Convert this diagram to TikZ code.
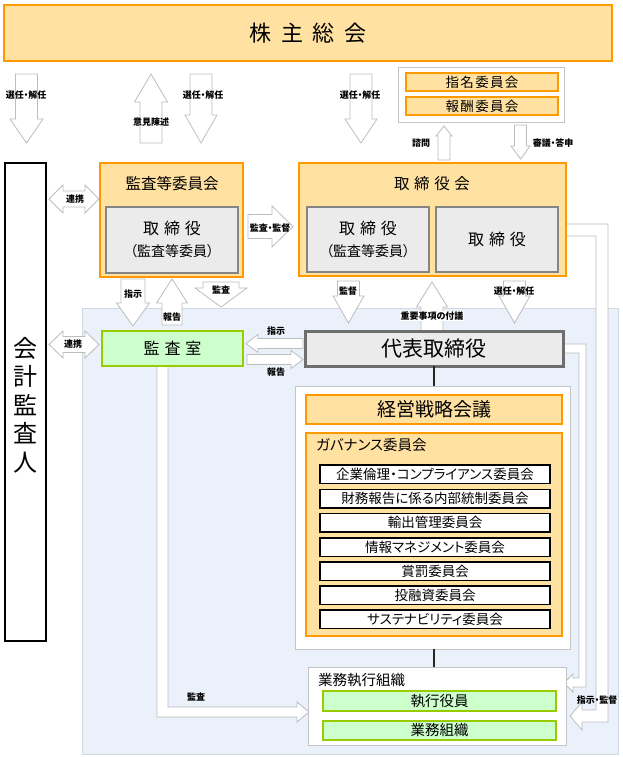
\documentclass[tikz,border=0pt]{standalone}
\usepackage{fontspec}
\setmainfont{Noto Sans CJK JP}[RawFeature=+palt]
\definecolor{orng}{HTML}{FF9900}
\definecolor{orfill}{HTML}{FFE1A2}
\definecolor{gbord}{HTML}{858585}
\definecolor{dbord}{HTML}{6E6E6E}
\definecolor{gfill}{HTML}{EBEBEB}
\definecolor{grnb}{HTML}{99CC00}
\definecolor{grnf}{HTML}{CCFFCC}
\definecolor{bluebg}{HTML}{EAF1FA}
\definecolor{bluebd}{HTML}{CFD8E3}
\definecolor{arrowc}{HTML}{BDBDBD}
\definecolor{lgray}{HTML}{C4C4C4}
\newcommand\gp{\hspace{0.3em}}
% box: name, style, x1, y1, x2, y2, text
\newcommand\bx[7]{\node[#2, anchor=north west, inner sep=0pt, outer sep=0pt,
  minimum width=#5pt-#3pt, minimum height=#6pt-#4pt] (#1) at (#3,#4) {#7};}
% single block arrow: tail x, tail y, angle, length, head length, shaft half, head half
\newcommand\sarrow[7]{\draw[barrow,shift={(#1,#2)},rotate=#3] (0,-#6) -- ({#4-#5},-#6) -- ({#4-#5},-#7) -- (#4,0) -- ({#4-#5},#7) -- ({#4-#5},#6) -- (0,#6) -- cycle;}
% double block arrow
\newcommand\darrow[7]{\draw[barrow,shift={(#1,#2)},rotate=#3] (0,0) -- (#5,-#7) -- (#5,-#6) -- ({#4-#5},-#6) -- ({#4-#5},-#7) -- (#4,0) -- ({#4-#5},#7) -- ({#4-#5},#6) -- (#5,#6) -- (#5,#7) -- cycle;}
\begin{document}
\begin{tikzpicture}[x=1pt,y=-1pt,
  orangebox/.style={draw=orng, line width=2.6pt, fill=orfill},
  orangethin/.style={draw=orng, line width=2pt, fill=orfill},
  graybox/.style={draw=gbord, line width=2.6pt, fill=gfill},
  greenbox/.style={draw=grnb, line width=2.6pt, fill=grnf},
  greenthin/.style={draw=grnb, line width=2.2pt, fill=grnf},
  whitebox/.style={draw=lgray, line width=0.8pt, fill=white},
  itembox/.style={draw=black, line width=1.6pt, fill=white},
  barrow/.style={draw=arrowc, line width=0.8pt, fill=white, line join=miter},
  lbl/.style={font=\bfseries\fontsize{9}{10}\selectfont, inner sep=0.5pt},
  connline/.style={draw=black!85, line width=1.5pt}]
\useasboundingbox (0,0) rectangle (623,758);
\fill[white] (0,0) rectangle (623,758);

% blue background
\bx{bluebg}{draw=bluebd, line width=0.8pt, fill=bluebg}{82}{308}{618}{754}{}

% ---- block arrows ----
\sarrow{26.5}{74}{-90}{69}{24}{11}{16.5}
\sarrow{151}{143}{90}{69}{28}{11}{16.5}
\sarrow{201}{74}{-90}{69}{28}{11}{16}
\sarrow{361}{74}{-90}{69}{24}{11}{16}
\sarrow{444}{160}{90}{34}{10}{6}{8}
\sarrow{520.5}{125}{-90}{34}{13}{6}{9.5}
\darrow{49}{199}{0}{50}{14}{8}{14}
\sarrow{248}{226.5}{0}{45}{21}{12}{20.5}
\sarrow{133}{279}{-90}{47}{23}{12}{16.5}
\sarrow{172}{325}{90}{46}{24}{10}{15.5}
\sarrow{221}{282}{-90}{25}{19}{18}{26}
\darrow{49}{344.5}{0}{50}{14}{8}{13.5}
\sarrow{303}{343.5}{180}{57}{12}{5}{9}
\sarrow{247}{359.5}{0}{56}{12}{5}{9}
\sarrow{348.5}{281}{-90}{42}{27}{11}{15.5}
\sarrow{514.5}{281}{-90}{42}{27}{11}{15.5}
\sarrow{432}{331}{90}{49}{25}{11}{15.5}
% L-shaped arrows
\draw[barrow] (157,366) -- (168,366) -- (168,707) -- (297,707) -- (297,702) -- (309,712) -- (297,722) -- (297,717) -- (157,717) -- cycle;
\draw[barrow] (566,224) -- (608,224) -- (608,722) -- (582,722) -- (582,730) -- (570,716) -- (582,702) -- (582,710) -- (596,710) -- (596,236) -- (566,236) -- cycle;
\draw[barrow] (563,344) -- (586,344) -- (586,687) -- (573,687) -- (573,692) -- (564,683) -- (573,674) -- (573,678) -- (579,678) -- (579,353) -- (563,353) -- cycle;

% ---- boxes ----
\bx{kabu}{orangebox}{4}{5}{612}{61}{\fontsize{22}{26}\selectfont 株\hspace{0.45em}主\hspace{0.45em}総\hspace{0.45em}会}
\bx{kaikei}{draw=black, line width=2.6pt, fill=white}{5}{163}{46}{641}{}
\node[font=\fontsize{24}{28.5}\selectfont, align=center, inner sep=0pt] (kaikeit) at (25.5,405) {会\\計\\監\\査\\人};

\bx{nomc}{whitebox}{398}{67}{564}{122}{}
\bx{shimei}{orangethin}{406}{73}{558}{91}{\fontsize{13.5}{15}\selectfont 指\hspace{0.1em}名\hspace{0.1em}委\hspace{0.1em}員\hspace{0.1em}会}
\bx{hoshu}{orangethin}{406}{97}{558}{115}{\fontsize{13.5}{15}\selectfont 報\hspace{0.1em}酬\hspace{0.1em}委\hspace{0.1em}員\hspace{0.1em}会}

\bx{kiac}{orangebox}{100}{163}{243}{277}{}
\node[font=\fontsize{15.5}{17}\selectfont] (kiact) at (172,184) {監査等委員会};
\bx{kiadir}{graybox}{106}{207}{238}{273}{}
\node[font=\fontsize{16}{18}\selectfont] (kiadirt1) at (172,228) {取\gp 締\gp 役};
\node[font=\fontsize{14}{16}\selectfont] (kiadirt2) at (172,251) {（監査等委員）};

\bx{board}{orangebox}{299}{163}{566}{276}{}
\node[font=\fontsize{15.5}{17}\selectfont] (boardt) at (432,184) {取\gp 締\gp 役\gp 会};
\bx{bdl}{graybox}{307}{207}{429}{272}{}
\node[font=\fontsize{16}{18}\selectfont] (bdlt1) at (368,228) {取\gp 締\gp 役};
\node[font=\fontsize{14}{16}\selectfont] (bdlt2) at (368,251) {（監査等委員）};
\bx{bdr}{graybox}{436}{207}{558}{272}{\fontsize{16}{18}\selectfont 取\gp 締\gp 役}

\bx{kshitsu}{greenbox}{102}{331}{243}{366}{\fontsize{16}{18}\selectfont 監\gp 査\gp 室}
\bx{daihyo}{draw=dbord, line width=3pt, fill=gfill}{305}{331}{563}{366}{\fontsize{21}{24}\selectfont 代表取締役}

\bx{cont}{whitebox}{295}{386}{570}{649}{}
\bx{keiei}{orangebox}{306}{395}{562}{424}{\fontsize{19}{22}\selectfont 経営戦略会議}
\bx{gov}{orangebox}{306}{433}{562}{636}{}
\node[font=\fontsize{14.5}{16}\selectfont, anchor=west, inner sep=0pt] (govt) at (316,445) {ガバナンス委員会};
\bx{it1}{itembox}{320}{465}{550}{483.5}{\fontsize{13.5}{15}\selectfont 企業倫理・コンプライアンス委員会}
\bx{it2}{itembox}{320}{489.5}{550}{508}{\fontsize{13.5}{15}\selectfont 財務報告に係る内部統制委員会}
\bx{it3}{itembox}{320}{513.5}{550}{532}{\fontsize{13.5}{15}\selectfont 輸出管理委員会}
\bx{it4}{itembox}{320}{538}{550}{556.5}{\fontsize{13.5}{15}\selectfont 情報マネジメント委員会}
\bx{it5}{itembox}{320}{562}{550}{580.5}{\fontsize{13.5}{15}\selectfont 賞罰委員会}
\bx{it6}{itembox}{320}{586}{550}{604.5}{\fontsize{13.5}{15}\selectfont 投融資委員会}
\bx{it7}{itembox}{320}{610}{550}{628.5}{\fontsize{13.5}{15}\selectfont サステナビリティ委員会}

\bx{gyomu}{whitebox}{308}{667}{566}{745}{}
\node[font=\fontsize{14.5}{16}\selectfont, anchor=west, inner sep=0pt] (gyomut) at (318,680) {業務執行組織};
\bx{shikko}{greenthin}{323}{691}{556}{711}{\fontsize{14.5}{16}\selectfont 執行役員}
\bx{soshiki}{greenthin}{323}{721}{556}{740}{\fontsize{14.5}{16}\selectfont 業務組織}

\draw[connline] (daihyo.south -| 434,0) -- (cont.north -| 434,0);
\draw[connline] (cont.south -| 434,0) -- (gyomu.north -| 434,0);

% ---- labels ----
\node[lbl] (l1) at (26,95) {選任・解任};
\node[lbl] (l2) at (151,122) {意見陳述};
\node[lbl] (l3) at (203,95) {選任・解任};
\node[lbl] (l4) at (360,95) {選任・解任};
\node[lbl] (l5) at (421,143) {諮問};
\node[lbl] (l6) at (553,143) {審議・答申};
\node[lbl] (l7) at (75,199) {連携};
\node[lbl] (l8) at (270,228) {監査・監督};
\node[lbl] (l9) at (133,294) {指示};
\node[lbl] (l10) at (172,317) {報告};
\node[lbl] (l11) at (221,290) {監査};
\node[lbl] (l12) at (73,344) {連携};
\node[lbl] (l13) at (276,331) {指示};
\node[lbl] (l14) at (276,372) {報告};
\node[lbl] (l15) at (348,291) {監督};
\node[lbl] (l16) at (514,291) {選任・解任};
\node[lbl, fill=white] (l17) at (432,316) {重要事項の付議};
\node[lbl] (l18) at (196,697) {監査};
\node[lbl] (l19) at (597,700) {指示・監督};
\end{tikzpicture}
\end{document}
